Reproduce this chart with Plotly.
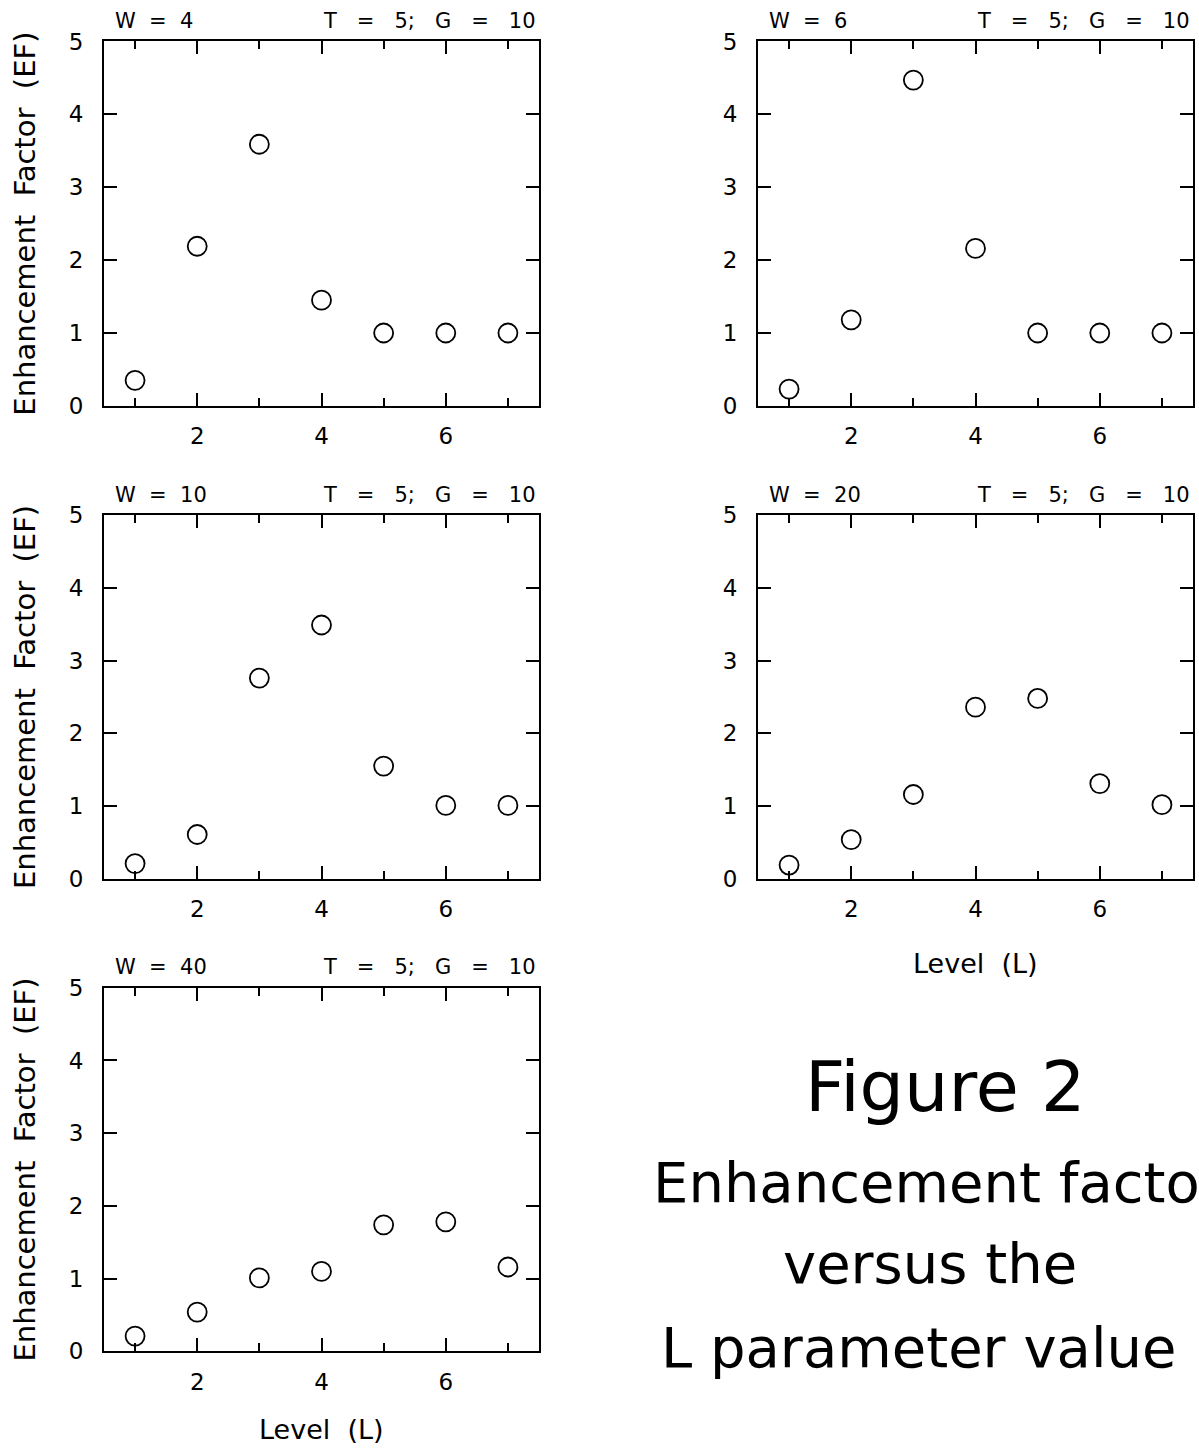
import plotly.graph_objects as go

# Enhancement factor (EF) against level L, one panel per W (T = 5, G = 10)
levels = [1, 2, 3, 4, 5, 6, 7]
ef_w4 = [0.35, 2.19, 3.59, 1.45, 1.00, 1.00, 1.00]
ef_w6 = [0.23, 1.18, 4.47, 2.16, 1.00, 1.00, 1.00]
ef_w10 = [0.21, 0.61, 2.76, 3.49, 1.55, 1.01, 1.01]
ef_w20 = [0.19, 0.54, 1.16, 2.36, 2.48, 1.31, 1.02]
ef_w40 = [0.21, 0.54, 1.01, 1.10, 1.74, 1.78, 1.16]

w_values = [4, 6, 10, 20, 40]
series = [ef_w4, ef_w6, ef_w10, ef_w20, ef_w40]
fixed_params = "T = 5; G = 10"
x_tick_labels = [2, 4, 6]
y_tick_labels = [0, 1, 2, 3, 4, 5]
y_title = "Enhancement Factor (EF)"
x_title = "Level (L)"
caption = ["Figure 2", "Enhancement factor", "versus the", "L parameter value"]

FIG_W, FIG_H = 1199, 1456
FONT = "DejaVu Sans"
NB = "\u00a0"


def sp(text, n=2):
    """Widen word gaps with non-breaking spaces."""
    return text.replace(" ", NB * n)


def px_x(px):
    return px / FIG_W


def px_y(py):
    return 1 - py / FIG_H


# panel frames in figure pixels: (left, right), (top, bottom)
cols = [(104, 539), (758, 1193)]
rows = [(29, 400), (511.3, 881.6), (992.5, 1362.7)]
grid = [(0, 0), (0, 1), (1, 0), (1, 1), (2, 0)]
x_title_pos = {(1, 1): 968, (2, 0): 1442}

fig = go.Figure()
annotations = []
layout_axes = {}

for i, (w, vals, (r, c)) in enumerate(zip(w_values, series, grid), start=1):
    (x0, x1), (y0, y1) = cols[c], rows[r]
    xa = "x" if i == 1 else f"x{i}"
    ya = "y" if i == 1 else f"y{i}"
    fig.add_trace(go.Scatter(
        x=levels, y=vals, mode="markers",
        marker=dict(symbol="circle-open", size=19, color="black",
                    line=dict(width=1.8, color="black")),
        xaxis=xa, yaxis=ya, showlegend=False, cliponaxis=False,
        hoverinfo="x+y",
    ))
    common = dict(
        showline=True, linewidth=2, linecolor="black", mirror="ticks",
        ticks="inside", ticklen=13, tickwidth=1.8, tickcolor="black",
        showgrid=False, zeroline=False, fixedrange=True,
        tickfont=dict(family=FONT, size=23, color="black"),
    )
    layout_axes[f"xaxis{'' if i == 1 else i}"] = dict(
        common, domain=[px_x(x0), px_x(x1)], anchor=ya, range=[0.5, 7.5],
        tickmode="array", tickvals=x_tick_labels,
        ticktext=[str(v) for v in x_tick_labels],
        minor=dict(ticks="inside", ticklen=8, tickwidth=1.8,
                   tickcolor="black", dtick=1, tick0=0),
        ticklabelstandoff=9,
    )
    layout_axes[f"yaxis{'' if i == 1 else i}"] = dict(
        common, domain=[px_y(y1), px_y(y0)], anchor=xa, range=[0, 5],
        tickmode="array", tickvals=y_tick_labels,
        ticktext=[str(v) for v in y_tick_labels],
        ticklabelstandoff=14,
    )

    # header line above each panel
    annotations.append(dict(
        text=sp(f"W = {w}"), xref="paper", yref="paper",
        x=px_x(x0 + 9), y=px_y(y0 - 21), xanchor="left", yanchor="middle",
        showarrow=False, font=dict(family=FONT, size=21, color="black"),
    ))
    annotations.append(dict(
        text=sp(fixed_params, 3), xref="paper", yref="paper",
        x=px_x(x1 - 1), y=px_y(y0 - 21), xanchor="right", yanchor="middle",
        showarrow=False, font=dict(family=FONT, size=21, color="black"),
    ))
    if c == 0:
        annotations.append(dict(
            text=sp(y_title), xref="paper", yref="paper",
            x=px_x(25), y=px_y((y0 + y1) / 2), xanchor="center",
            yanchor="middle", textangle=-90, showarrow=False,
            font=dict(family=FONT, size=29, color="black"),
        ))
    if (r, c) in x_title_pos:
        annotations.append(dict(
            text=sp(x_title), xref="paper", yref="paper",
            x=px_x((x0 + x1) / 2), y=px_y(x_title_pos[(r, c)]),
            xanchor="center", yanchor="middle", showarrow=False,
            font=dict(family=FONT, size=27, color="black"),
        ))

# caption block in the empty bottom-right cell
caption_pos = [
    (945, 1094, "center", 70),
    (651, 1191, "left", 56),
    (930, 1273, "center", 56),
    (659, 1359, "left", 56),
]
for line, (cx, cy, anchor, size) in zip(caption, caption_pos):
    annotations.append(dict(
        text=sp(line, 1), xref="paper", yref="paper",
        x=px_x(cx), y=px_y(cy), xanchor=anchor, yanchor="middle",
        showarrow=False, font=dict(family=FONT, size=size, color="black"),
    ))

fig.update_layout(
    width=FIG_W, height=FIG_H,
    margin=dict(l=0, r=0, t=0, b=0),
    paper_bgcolor="white", plot_bgcolor="white",
    font=dict(family=FONT, color="black"),
    annotations=annotations,
    **layout_axes,
)

fig.write_html("out.html")
